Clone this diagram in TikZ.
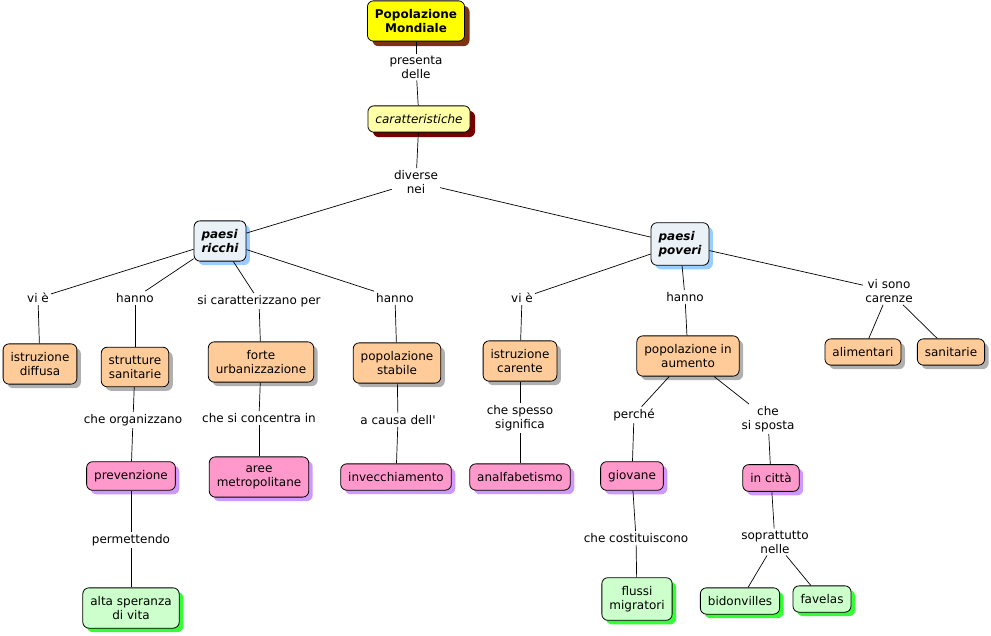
\documentclass[tikz,border=0pt]{standalone}
\usepackage{fontspec}
\setmainfont{DejaVu Sans}
\usetikzlibrary{shadows}
\definecolor{cyellow}{RGB}{255,255,0}
\definecolor{cyshadow}{RGB}{125,50,20}
\definecolor{clyellow}{RGB}{255,255,168}
\definecolor{clyshadow}{RGB}{120,0,0}
\definecolor{cblue}{RGB}{234,242,248}
\definecolor{cbshadow}{RGB}{153,204,255}
\definecolor{corange}{RGB}{255,204,153}
\definecolor{coshadow}{RGB}{176,176,176}
\definecolor{cpink}{RGB}{255,153,204}
\definecolor{cpshadow}{RGB}{204,153,255}
\definecolor{cgreen}{RGB}{204,255,204}
\definecolor{cgshadow}{RGB}{51,255,51}
\begin{document}
\begin{tikzpicture}[x=1pt,y=-1pt,
  every node/.style={font=\fontsize{12}{14}\selectfont},
  box/.style={draw=black, line width=0.8pt, rounded corners=6pt, inner xsep=7.5pt, inner ysep=8.5pt, align=center},
  topbox/.style={box, fill=cyellow, font=\fontsize{12}{14}\selectfont\bfseries,
     drop shadow={shadow xshift=5pt, shadow yshift=-5pt, fill=cyshadow, opacity=1}},
  carbox/.style={box, fill=clyellow, font=\fontsize{12}{14}\selectfont\itshape,
     drop shadow={shadow xshift=5pt, shadow yshift=-5pt, fill=clyshadow, opacity=1}},
  paesebox/.style={box, align=left, fill=cblue, font=\fontsize{12}{14}\selectfont\bfseries\itshape,
     drop shadow={shadow xshift=4pt, shadow yshift=-4pt, fill=cbshadow, opacity=1}},
  obox/.style={box, fill=corange,
     drop shadow={shadow xshift=4pt, shadow yshift=-4pt, fill=coshadow, opacity=1}},
  pbox/.style={box, fill=cpink,
     drop shadow={shadow xshift=4pt, shadow yshift=-4pt, fill=cpshadow, opacity=1}},
  gbox/.style={box, fill=cgreen,
     drop shadow={shadow xshift=4pt, shadow yshift=-4pt, fill=cgshadow, opacity=1}},
  lbl/.style={inner sep=2pt, align=center},
  conn/.style={line width=0.7pt, black}]
\useasboundingbox (0,0) rectangle (991,635);

% nodes
\node[topbox] (pop) at (416,21) {Popolazione\\Mondiale};
\node[lbl] (presenta) at (416,67) {presenta\\delle};
\node[carbox] (car) at (419,119) {caratteristiche};
\node[lbl] (diverse) at (416,182) {diverse\\nei};
\node[paesebox] (ricchi) at (220,241) {paesi\\ricchi};
\node[paesebox] (poveri) at (680,244) {paesi\\poveri};

\node[lbl] (vie1) at (38,298) {vi è};
\node[lbl] (hanno1) at (135,298) {hanno};
\node[lbl] (sicar) at (259,301) {si caratterizzano per};
\node[lbl] (hanno2) at (395,298) {hanno};
\node[lbl] (vie2) at (522,298) {vi è};
\node[lbl] (hanno3) at (685,297) {hanno};
\node[lbl] (visono) at (889,291) {vi sono\\carenze};

\node[obox] (istrdiff) at (40,364) {istruzione\\diffusa};
\node[obox] (strutt) at (135,367) {strutture\\sanitarie};
\node[obox] (forte) at (261,362) {forte\\urbanizzazione};
\node[obox] (popstab) at (397,363) {popolazione\\stabile};
\node[obox] (istrcar) at (520,361) {istruzione\\carente};
\node[obox] (popaum) at (688,356) {popolazione in\\aumento};
\node[obox] (alim) at (863,352) {alimentari};
\node[obox] (sanit) at (951,352) {sanitarie};

\node[lbl] (cheorg) at (133,420) {che organizzano};
\node[lbl] (checonc) at (259,418) {che si concentra in};
\node[lbl] (acausa) at (398,420) {a causa dell\textquotesingle};
\node[lbl] (chesp) at (520,418) {che spesso\\significa};
\node[lbl] (perche) at (634,415) {perché};
\node[lbl] (chesisp) at (768,419) {che\\si sposta};

\node[pbox] (prev) at (131,476) {prevenzione};
\node[pbox] (aree) at (259,477) {aree\\metropolitane};
\node[pbox] (invec) at (396,477) {invecchiamento};
\node[pbox] (analf) at (520,477) {analfabetismo};
\node[pbox] (giov) at (632,476) {giovane};
\node[pbox] (citta) at (771,478) {in città};

\node[lbl] (permett) at (131,540) {permettendo};
\node[lbl] (checost) at (636,538) {che costituiscono};
\node[lbl] (soprat) at (775,542) {soprattutto\\nelle};

\node[gbox] (alta) at (131,608) {alta speranza\\di vita};
\node[gbox] (flussi) at (637,599) {flussi\\migratori};
\node[gbox] (bidon) at (740,601) {bidonvilles};
\node[gbox] (favelas) at (822,599) {favelas};

% connectors
\draw[conn] (pop) -- (presenta);
\draw[conn] (presenta) -- (car);
\draw[conn] (car) -- (diverse);
\draw[conn] (diverse) -- (ricchi);
\draw[conn] (diverse) -- (poveri);
\draw[conn] (ricchi) -- (vie1);
\draw[conn] (vie1) -- (istrdiff);
\draw[conn] (ricchi) -- (hanno1);
\draw[conn] (hanno1) -- (strutt);
\draw[conn] (ricchi) -- (sicar);
\draw[conn] (sicar) -- (forte);
\draw[conn] (ricchi) -- (hanno2);
\draw[conn] (hanno2) -- (popstab);
\draw[conn] (poveri) -- (vie2);
\draw[conn] (vie2) -- (istrcar);
\draw[conn] (poveri) -- (hanno3);
\draw[conn] (hanno3) -- (popaum);
\draw[conn] (poveri) -- (visono);
\draw[conn] (visono) -- (alim);
\draw[conn] (visono) -- (sanit);
\draw[conn] (strutt) -- (cheorg);
\draw[conn] (cheorg) -- (prev);
\draw[conn] (forte) -- (checonc);
\draw[conn] (checonc) -- (aree);
\draw[conn] (popstab) -- (acausa);
\draw[conn] (acausa) -- (invec);
\draw[conn] (istrcar) -- (chesp);
\draw[conn] (chesp) -- (analf);
\draw[conn] (popaum) -- (perche);
\draw[conn] (perche) -- (giov);
\draw[conn] (popaum) -- (chesisp);
\draw[conn] (chesisp) -- (citta);
\draw[conn] (prev) -- (permett);
\draw[conn] (permett) -- (alta);
\draw[conn] (giov) -- (checost);
\draw[conn] (checost) -- (flussi);
\draw[conn] (citta) -- (soprat);
\draw[conn] (soprat) -- (bidon);
\draw[conn] (soprat) -- (favelas);
\end{tikzpicture}
\end{document}
